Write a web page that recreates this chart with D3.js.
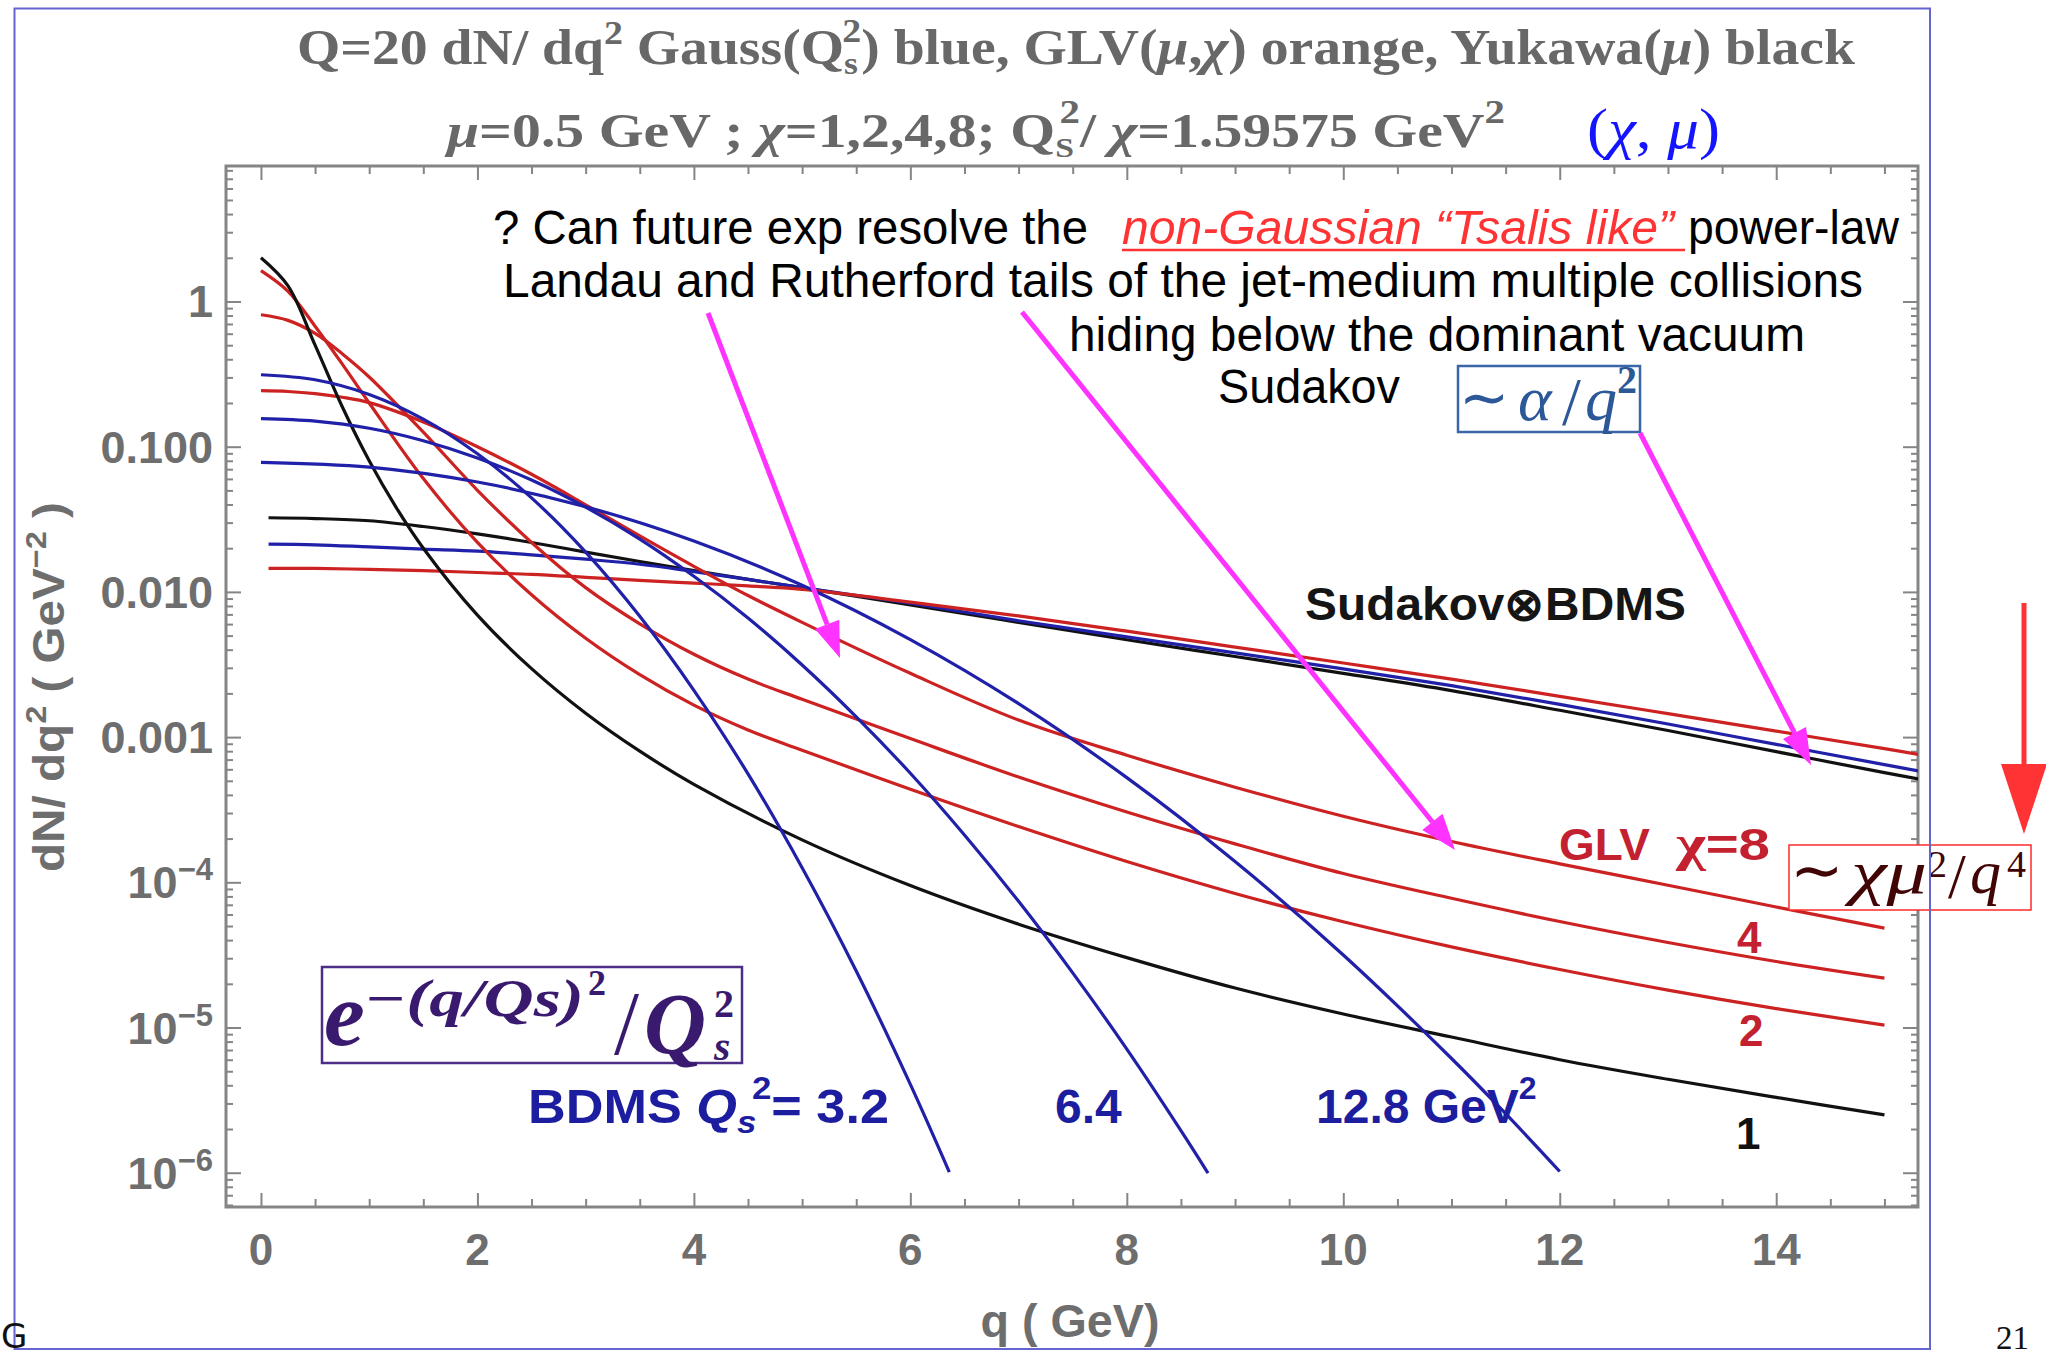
<!DOCTYPE html>
<html>
<head>
<meta charset="utf-8">
<script src="https://cdn.jsdelivr.net/npm/d3@7/dist/d3.min.js"></script>
<style>
  html, body { margin: 0; padding: 0; background: #ffffff; }
  svg { display: block; }
</style>
</head>
<body>
<svg id="chart" width="2046" height="1356"></svg>
<script>
// ---------------- data ----------------
// axis ticks
const xTicksMajor = [0, 2, 4, 6, 8, 10, 12, 14];
const yTicksMajor = [1, 0.1, 0.01, 0.001, 1e-4, 1e-5, 1e-6];
const yTickText   = ["1", "0.100", "0.010", "0.001", "10^-4", "10^-5", "10^-6"];

// Yukawa (mu = 0.5 GeV), chi = 1, black
const yukawaQ = [0, 0.25, 0.5, 0.75, 1, 1.25, 1.5, 2, 2.5, 3, 3.5, 4, 5, 6, 7, 8, 9, 10, 11, 12, 13, 14, 15];
const yukawaV = [2.0, 1.28, 0.50, 0.189, 0.080, 0.0381, 0.0200, 0.00692, 0.00296, 0.00146, 8.0e-4, 4.73e-4,
                 1.96e-4, 9.5e-5, 5.15e-5, 3.03e-5, 1.87e-5, 1.24e-5, 8.6e-6, 6.0e-6, 4.4e-6, 3.3e-6, 2.5e-6];

// GLV opacity curves, red
const glvQ    = [0, 0.25, 0.5, 0.75, 1, 1.5, 2, 2.5, 3, 3.5, 4, 4.5, 5, 6, 7, 8, 9, 10, 11, 12, 13, 14, 15];
const glvChi2 = [1.63, 1.175, 0.676, 0.372, 0.200, 0.0603, 0.0219, 0.00955, 0.00479, 0.00269, 0.00166, 0.00112,
                 8.13e-4, 4.37e-4, 2.42e-4, 1.39e-4, 8.38e-5, 5.35e-5, 3.59e-5, 2.51e-5, 1.81e-5, 1.35e-5, 1.04e-5];
const glvChi4 = [0.81, 0.741, 0.603, 0.437, 0.302, 0.126, 0.0501, 0.0219, 0.0107, 0.00603, 0.00372, 0.00251,
                 0.00182, 9.77e-4, 5.31e-4, 3.05e-4, 1.84e-4, 1.15e-4, 7.76e-5, 5.37e-5, 3.85e-5, 2.85e-5, 2.19e-5];
const glvChi8 = [0.243, 0.240, 0.232, 0.219, 0.201, 0.148, 0.100, 0.0646, 0.0398, 0.0243, 0.0150, 0.00944,
                 0.00617, 0.00275, 0.00131, 7.50e-4, 4.52e-4, 2.85e-4, 1.91e-4, 1.34e-4, 9.55e-5, 6.76e-5, 4.84e-5];

// BDMS Gaussians, blue (Qs^2 = 3.2, 6.4, 12.8 GeV^2)
const bdms32Q = [0, 0.5, 1, 1.5, 2, 2.5, 3, 3.5, 4, 4.5, 5, 5.5, 6, 6.36];
const bdms32V = [0.313, 0.289, 0.229, 0.155, 0.0895, 0.0444, 0.0188, 0.00679, 0.00210, 5.58e-4, 1.26e-4,
                 2.45e-5, 4.06e-6, 1.01e-6];
const bdms64Q = [0, 0.5, 1, 1.5, 2, 2.5, 3, 3.5, 4, 4.5, 5, 5.5, 6, 6.5, 7, 7.5, 8, 8.5, 8.75];
const bdms64V = [0.156, 0.150, 0.134, 0.110, 0.0836, 0.0589, 0.0383, 0.0231, 0.0128, 0.00661, 0.00314,
                 0.00138, 5.64e-4, 2.12e-4, 7.40e-5, 2.38e-5, 7.10e-6, 1.95e-6, 9.95e-7];
const bdms128Q = [0, 1, 2, 3, 4, 5, 6, 7, 8, 9, 10, 11, 11.5, 12];
const bdms128V = [0.0781, 0.0723, 0.0571, 0.0386, 0.0224, 0.0111, 0.00469, 0.00170, 5.26e-4, 1.39e-4,
                  3.16e-5, 6.12e-6, 2.55e-6, 1.02e-6];

// Sudakov (x) medium broadening, the three flat curves
const sudQ     = [0.07, 0.5, 1, 1.5, 2, 2.5, 3, 3.5, 4, 4.5, 5, 6, 7, 8, 9, 10, 11, 12, 13, 14, 15, 15.4];
const sudBlack = [0.0324, 0.0320, 0.0309, 0.0282, 0.0251, 0.0219, 0.0188, 0.0162, 0.0140, 0.0122, 0.0107,
                  0.00813, 0.00617, 0.00468, 0.00359, 0.00275, 0.00209, 0.00153, 0.00111, 7.94e-4, 5.69e-4, 5.01e-4];
const sudBlue  = [0.0213, 0.0211, 0.0204, 0.0197, 0.0191, 0.0180, 0.0168, 0.0155, 0.0138, 0.0122, 0.0107,
                  0.00835, 0.00633, 0.00490, 0.00380, 0.00295, 0.00226, 0.00168, 0.00123, 8.91e-4, 6.46e-4, 5.69e-4];
const sudRed   = [0.0145, 0.0145, 0.0143, 0.0140, 0.0136, 0.0132, 0.0126, 0.0120, 0.0115, 0.0110, 0.0104,
                  0.00851, 0.00684, 0.00537, 0.00417, 0.00324, 0.00251, 0.00191, 0.00145, 0.00110, 8.32e-4, 7.41e-4];

// ---------------- layout & style ----------------
const W = 2046, H = 1356;
const plot = { left: 226, right: 1918, top: 166, bottom: 1207 };
const C = {
  blue: "#2020a8", red: "#cc2222", black: "#111111",
  axis: "#858585", axisText: "#6e6e6e", title: "#686868",
  magenta: "#ff33ff", arrowRed: "#ff3333", slide: "#6464d2"
};
const SANS = "'Liberation Sans', Arial, sans-serif";
const SERIF = "'Liberation Serif', 'Times New Roman', serif";

const svg = d3.select("#chart");
svg.append("rect").attr("width", W).attr("height", H).attr("fill", "#fff");

const x = d3.scaleLinear().domain([-0.323, 15.31]).range([plot.left, plot.right]);
const y = d3.scaleLog().domain([Math.pow(10, -6.236), Math.pow(10, 0.933)]).range([plot.bottom, plot.top]);

// helper: text made of styled runs with super/subscript offsets
function rich(sel, parts) {
  let cur = 0;
  parts.forEach(p => {
    const off = p.off || 0;
    const ts = sel.append("tspan").text(p.t).attr("dy", off - cur);
    cur = off;
    if (p.size) ts.attr("font-size", p.size);
    if (p.italic) ts.attr("font-style", "italic");
    if (p.dx) ts.attr("dx", p.dx);
    if (p.fill) ts.attr("fill", p.fill);
    if (p.weight) ts.attr("font-weight", p.weight);
    if (p.family) ts.attr("font-family", p.family);
  });
  return sel;
}

// ---------------- title ----------------
rich(svg.append("text").attr("x", 297).attr("y", 64)
    .attr("font-family", SERIF).attr("font-weight", "bold").attr("font-size", 50)
    .attr("fill", C.title).attr("textLength", 1558).attr("lengthAdjust", "spacingAndGlyphs"), [
  { t: "Q=20 dN/ dq" }, { t: "2", off: -20, size: 34 },
  { t: "  Gauss(Q", off: 0 }, { t: "s", off: 10, size: 32 }, { t: "2", off: -22, size: 34, dx: -14 },
  { t: ") blue, GLV(", off: 0 }, { t: "μ", italic: true }, { t: "," }, { t: "χ", italic: true },
  { t: ") orange, Yukawa(" }, { t: "μ", italic: true }, { t: ") black" }
]);
rich(svg.append("text").attr("x", 447).attr("y", 147)
    .attr("font-family", SERIF).attr("font-weight", "bold").attr("font-size", 48)
    .attr("fill", C.title).attr("textLength", 1058).attr("lengthAdjust", "spacingAndGlyphs"), [
  { t: "μ", italic: true }, { t: "=0.5 GeV ; " }, { t: "χ", italic: true }, { t: "=1,2,4,8;  Q" },
  { t: "S", off: 10, size: 28 }, { t: "2", off: -24, size: 34, dx: -12 }, { t: "/ ", off: 0 },
  { t: "χ", italic: true }, { t: "=1.59575 GeV" }, { t: "2", off: -24, size: 34 }
]);
rich(svg.append("text").attr("x", 1587).attr("y", 148)
    .attr("font-family", SERIF).attr("font-size", 56).attr("fill", "#1414ff")
    .attr("textLength", 133).attr("lengthAdjust", "spacingAndGlyphs"), [
  { t: "(" }, { t: "χ", italic: true }, { t: ", " }, { t: "μ", italic: true }, { t: ")" }
]);

// ---------------- plot frame, ticks ----------------
const defs = svg.append("defs");
defs.append("clipPath").attr("id", "plotClip").append("rect")
  .attr("x", plot.left).attr("y", plot.top)
  .attr("width", plot.right - plot.left).attr("height", plot.bottom - plot.top);

const xMinor = d3.range(0, 15.01, 0.5).filter(v => !xTicksMajor.includes(v));
const yMinor = [];
for (let k = -7; k <= 0; k++) for (let m = 2; m <= 9; m++) {
  const v = m * Math.pow(10, k);
  if (v > y.domain()[0] && v < y.domain()[1]) yMinor.push(v);
}
function styleAxis(g) {
  g.select(".domain").remove();
  g.selectAll(".tick line").attr("stroke", C.axis).attr("stroke-width", 2);
  g.selectAll(".tick text").remove();
}
const axes = svg.append("g");
[[d3.axisBottom, plot.bottom], [d3.axisTop, plot.top]].forEach(([ax, yy]) => {
  axes.append("g").attr("transform", `translate(0,${yy})`).call(ax(x).tickValues(xTicksMajor).tickSize(-14)).call(styleAxis);
  axes.append("g").attr("transform", `translate(0,${yy})`).call(ax(x).tickValues(xMinor).tickSize(-8)).call(styleAxis);
});
[[d3.axisLeft, plot.left], [d3.axisRight, plot.right]].forEach(([ax, xx]) => {
  axes.append("g").attr("transform", `translate(${xx},0)`).call(ax(y).tickValues(yTicksMajor).tickSize(-15)).call(styleAxis);
  axes.append("g").attr("transform", `translate(${xx},0)`).call(ax(y).tickValues(yMinor).tickSize(-7)).call(styleAxis);
});
svg.append("rect").attr("x", plot.left).attr("y", plot.top)
  .attr("width", plot.right - plot.left).attr("height", plot.bottom - plot.top)
  .attr("fill", "none").attr("stroke", C.axis).attr("stroke-width", 3);

// tick labels
svg.append("g").selectAll("text").data(xTicksMajor).join("text")
  .attr("x", d => x(d)).attr("y", 1265).attr("text-anchor", "middle")
  .attr("font-family", SANS).attr("font-weight", "bold").attr("font-size", 44)
  .attr("fill", C.axisText).text(d => d);

const yl = svg.append("g").selectAll("text").data(yTicksMajor).join("text")
  .attr("x", 213).attr("y", d => y(d) + 16).attr("text-anchor", "end")
  .attr("font-family", SANS).attr("font-weight", "bold").attr("font-size", 45)
  .attr("fill", C.axisText);
yl.each(function (d, i) {
  const s = yTickText[i], t = d3.select(this);
  if (s.includes("^")) {
    const [b, e] = s.split("^");
    rich(t, [{ t: b }, { t: "−" + e.replace("-", ""), off: -18, size: 31 }]);
  } else t.text(s);
});

// axis titles
rich(svg.append("text").attr("transform", "translate(64,687) rotate(-90)").attr("text-anchor", "middle")
    .attr("font-family", SANS).attr("font-weight", "bold").attr("font-size", 44).attr("fill", C.axisText)
    .attr("textLength", 370).attr("lengthAdjust", "spacingAndGlyphs"), [
  { t: "dN/ dq" }, { t: "2", off: -18, size: 30 }, { t: " ( GeV", off: 0 },
  { t: "−2", off: -18, size: 30 }, { t: " )", off: 0 }
]);
svg.append("text").attr("x", 1070).attr("y", 1337).attr("text-anchor", "middle")
  .attr("font-family", SANS).attr("font-weight", "bold").attr("font-size", 47).attr("fill", C.axisText)
  .attr("textLength", 179).attr("lengthAdjust", "spacingAndGlyphs").text("q ( GeV)");

// ---------------- curves ----------------
const zip = (qs, vs) => qs.map((q, i) => [q, vs[i]]);
const curves = [
  { d: zip(sudQ, sudBlack), c: C.black },
  { d: zip(sudQ, sudBlue), c: C.blue },
  { d: zip(sudQ, sudRed), c: C.red },
  { d: zip(glvQ, glvChi8), c: C.red },
  { d: zip(glvQ, glvChi4), c: C.red },
  { d: zip(glvQ, glvChi2), c: C.red },
  { d: zip(yukawaQ, yukawaV), c: C.black },
  { d: zip(bdms32Q, bdms32V), c: C.blue },
  { d: zip(bdms64Q, bdms64V), c: C.blue },
  { d: zip(bdms128Q, bdms128V), c: C.blue }
];
const line = d3.line().x(d => x(d[0])).y(d => y(d[1])).curve(d3.curveCatmullRom.alpha(0.5));
svg.append("g").attr("clip-path", "url(#plotClip)")
  .selectAll("path").data(curves).join("path")
  .attr("d", d => line(d.d)).attr("fill", "none")
  .attr("stroke", d => d.c).attr("stroke-width", 3.2).attr("stroke-linejoin", "round");

// ---------------- in-plot labels ----------------
svg.append("text").attr("x", 1305).attr("y", 620)
  .attr("font-family", SANS).attr("font-weight", "bold").attr("font-size", 46).attr("fill", "#151515")
  .attr("textLength", 381).attr("lengthAdjust", "spacingAndGlyphs").text("Sudakov⊗BDMS");

const glvLab = svg.append("g").attr("font-family", SANS).attr("font-weight", "bold")
  .attr("font-size", 44).attr("fill", "#c42130");
glvLab.append("text").attr("x", 1559).attr("y", 860).attr("textLength", 91)
  .attr("lengthAdjust", "spacingAndGlyphs").text("GLV");
rich(glvLab.append("text").attr("x", 1676).attr("y", 860).attr("textLength", 94)
  .attr("lengthAdjust", "spacingAndGlyphs"), [{ t: "χ", family: SERIF, size: 50 }, { t: "=8" }]);
glvLab.append("text").attr("x", 1737).attr("y", 953).text("4");
glvLab.append("text").attr("x", 1739).attr("y", 1046).text("2");
svg.append("text").attr("x", 1736).attr("y", 1149).attr("font-family", SANS).attr("font-weight", "bold")
  .attr("font-size", 44).attr("fill", "#111").text("1");

const bdmsLab = svg.append("g").attr("font-family", SANS).attr("font-weight", "bold")
  .attr("font-size", 48).attr("fill", "#1d1da0");
rich(bdmsLab.append("text").attr("x", 528).attr("y", 1123).attr("textLength", 361)
  .attr("lengthAdjust", "spacingAndGlyphs"), [
  { t: "BDMS " }, { t: "Q", italic: true }, { t: "s", off: 10, size: 32, italic: true },
  { t: "2", off: -24, size: 32, dx: -4 }, { t: "= 3.2", off: 0 }
]);
bdmsLab.append("text").attr("x", 1055).attr("y", 1123).text("6.4");
rich(bdmsLab.append("text").attr("x", 1316).attr("y", 1123), [
  { t: "12.8 GeV" }, { t: "2", off: -24, size: 32 }
]);

// ---------------- annotation text ----------------
const note = svg.append("g").attr("font-family", SANS).attr("font-size", 48).attr("fill", "#000");
note.append("text").attr("x", 493).attr("y", 244).attr("textLength", 595)
  .attr("lengthAdjust", "spacingAndGlyphs").text("? Can future exp resolve the");
note.append("text").attr("x", 1122).attr("y", 244).attr("textLength", 552)
  .attr("lengthAdjust", "spacingAndGlyphs").attr("font-style", "italic").attr("fill", "#ff3333")
  .text("non-Gaussian “Tsalis like”");
svg.append("line").attr("x1", 1122).attr("x2", 1685).attr("y1", 250).attr("y2", 250)
  .attr("stroke", "#ff3333").attr("stroke-width", 2.5);
note.append("text").attr("x", 1688).attr("y", 244).attr("textLength", 211)
  .attr("lengthAdjust", "spacingAndGlyphs").text("power-law");
note.append("text").attr("x", 503).attr("y", 297).attr("textLength", 1360)
  .attr("lengthAdjust", "spacingAndGlyphs").text("Landau and Rutherford tails of the jet-medium multiple collisions");
note.append("text").attr("x", 1069).attr("y", 351).attr("textLength", 736)
  .attr("lengthAdjust", "spacingAndGlyphs").text("hiding below the dominant vacuum");
note.append("text").attr("x", 1218).attr("y", 403).attr("textLength", 182)
  .attr("lengthAdjust", "spacingAndGlyphs").text("Sudakov");

// ~ alpha/q^2 box
svg.append("rect").attr("x", 1458).attr("y", 366).attr("width", 182).attr("height", 66)
  .attr("fill", "#fff").attr("stroke", "#3a66a8").attr("stroke-width", 2.5);
const ab = svg.append("g").attr("font-family", SERIF).attr("fill", "#2c5898");
ab.append("text").attr("x", 1459).attr("y", 418).attr("font-size", 60).text("∼");
ab.append("text").attr("x", 1518).attr("y", 420).attr("font-size", 64).attr("font-style", "italic").text("α");
ab.append("text").attr("x", 1562).attr("y", 424).attr("font-size", 68).text("/");
ab.append("text").attr("x", 1585).attr("y", 420).attr("font-size", 64).attr("font-style", "italic").text("q");
ab.append("text").attr("x", 1617).attr("y", 393).attr("font-size", 40).attr("font-weight", "bold").text("2");

// Gaussian formula box
svg.append("rect").attr("x", 322).attr("y", 967).attr("width", 420).attr("height", 96)
  .attr("fill", "#fff").attr("stroke", "#4e2d86").attr("stroke-width", 2.5);
const gb = svg.append("g").attr("font-family", SERIF).attr("fill", "#3a1a6e").attr("font-weight", "bold");
gb.append("text").attr("x", 324).attr("y", 1045).attr("font-size", 92).attr("font-style", "italic").text("e");
gb.append("text").attr("x", 364).attr("y", 1016).attr("font-size", 52).attr("font-style", "italic")
  .attr("textLength", 220).attr("lengthAdjust", "spacingAndGlyphs").text("−(q/Qs)");
gb.append("text").attr("x", 588).attr("y", 995).attr("font-size", 36).text("2");
gb.append("text").attr("x", 614).attr("y", 1054).attr("font-size", 90).attr("font-weight", "normal").text("/");
gb.append("text").attr("x", 644).attr("y", 1053).attr("font-size", 86).attr("font-style", "italic").text("Q");
gb.append("text").attr("x", 714).attr("y", 1017).attr("font-size", 40).text("2");
gb.append("text").attr("x", 714).attr("y", 1060).attr("font-size", 42).attr("font-style", "italic").text("s");

// ~ chi mu^2/q^4 box
svg.append("rect").attr("x", 1789).attr("y", 845).attr("width", 242).attr("height", 65)
  .attr("fill", "#fff").attr("stroke", "#ff2a2a").attr("stroke-width", 1.5);
const cb = svg.append("g").attr("font-family", SERIF).attr("fill", "#420505");
cb.append("text").attr("x", 1790).attr("y", 892).attr("font-size", 64).text("∼");
cb.append("text").attr("x", 1851).attr("y", 893).attr("font-size", 62).attr("font-style", "italic")
  .attr("textLength", 76).attr("lengthAdjust", "spacingAndGlyphs").text("χμ");
cb.append("text").attr("x", 1928).attr("y", 877).attr("font-size", 38).text("2");
cb.append("text").attr("x", 1948).attr("y", 898).attr("font-size", 64).text("/");
cb.append("text").attr("x", 1970).attr("y", 893).attr("font-size", 62).attr("font-style", "italic").text("q");
cb.append("text").attr("x", 2007).attr("y", 877).attr("font-size", 38).text("4");

// ---------------- arrows ----------------
function arrow(x1, y1, x2, y2, color, w, len, half) {
  const a = Math.atan2(y2 - y1, x2 - x1);
  const bx = x2 - len * Math.cos(a), by = y2 - len * Math.sin(a);
  svg.append("line").attr("x1", x1).attr("y1", y1).attr("x2", bx).attr("y2", by)
    .attr("stroke", color).attr("stroke-width", w);
  const px = -Math.sin(a) * half, py = Math.cos(a) * half;
  svg.append("polygon").attr("fill", color)
    .attr("points", `${x2},${y2} ${bx + px},${by + py} ${bx - px},${by - py}`);
}
arrow(708, 313, 840, 658, C.magenta, 5, 36, 13);
arrow(1022, 312, 1455, 850, C.magenta, 5, 36, 13);
arrow(1640, 433, 1811, 765, C.magenta, 5, 36, 13);
arrow(2024, 603, 2024, 834, C.arrowRed, 5, 70, 23);

// ---------------- slide frame & footer ----------------
svg.append("rect").attr("x", 14.5).attr("y", 8.5).attr("width", 1915.5).attr("height", 1340.5)
  .attr("fill", "none").attr("stroke", C.slide).attr("stroke-width", 2);
svg.append("text").attr("x", 1).attr("y", 1348).attr("font-family", "'DejaVu Sans', sans-serif")
  .attr("font-size", 34).attr("fill", "#111").text("G");
svg.append("text").attr("x", 1996).attr("y", 1349).attr("font-family", SERIF)
  .attr("font-size", 33).attr("fill", "#111").text("21");
</script>
</body>
</html>
